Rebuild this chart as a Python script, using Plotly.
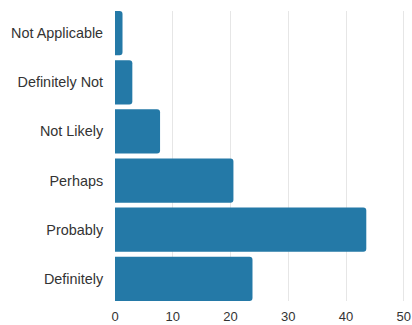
import plotly.graph_objects as go

categories = ["Not Applicable", "Definitely Not", "Not Likely", "Perhaps", "Probably", "Definitely"]
values = [1.3, 3.0, 7.8, 20.5, 43.5, 23.8]
x_ticks = [0, 10, 20, 30, 40, 50]

fig = go.Figure(go.Bar(
    x=values,
    y=categories,
    orientation="h",
    marker=dict(color="#2479a7", line=dict(width=0)),
    hoverinfo="skip",
))

n = len(categories)
fig.update_layout(
    width=412, height=325,
    margin=dict(l=115, r=7, t=11, b=24, autoexpand=False),
    paper_bgcolor="white",
    plot_bgcolor="white",
    bargap=0.1,
    barcornerradius=3,
    showlegend=False,
    font=dict(family="'Liberation Sans', Arial, sans-serif", size=13, color="#333333"),
    xaxis=dict(
        range=[0, 50.2],
        tickvals=x_ticks,
        showgrid=True,
        gridcolor="#e6e6e6",
        gridwidth=1,
        zeroline=False,
        showline=False,
        ticks="outside",
        ticklen=3,
        tickcolor="rgba(0,0,0,0)",
        automargin=False,
        tickfont=dict(size=13, color="#333333"),
    ),
    yaxis=dict(
        categoryorder="array",
        categoryarray=categories,
        range=[n - 1 + 0.45, -0.45],
        showgrid=False,
        zeroline=False,
        showline=False,
        ticks="outside",
        ticklen=8,
        tickcolor="rgba(0,0,0,0)",
        automargin=False,
        tickfont=dict(size=14.4, color="#333333"),
    ),
)

fig.write_html("out.html")
